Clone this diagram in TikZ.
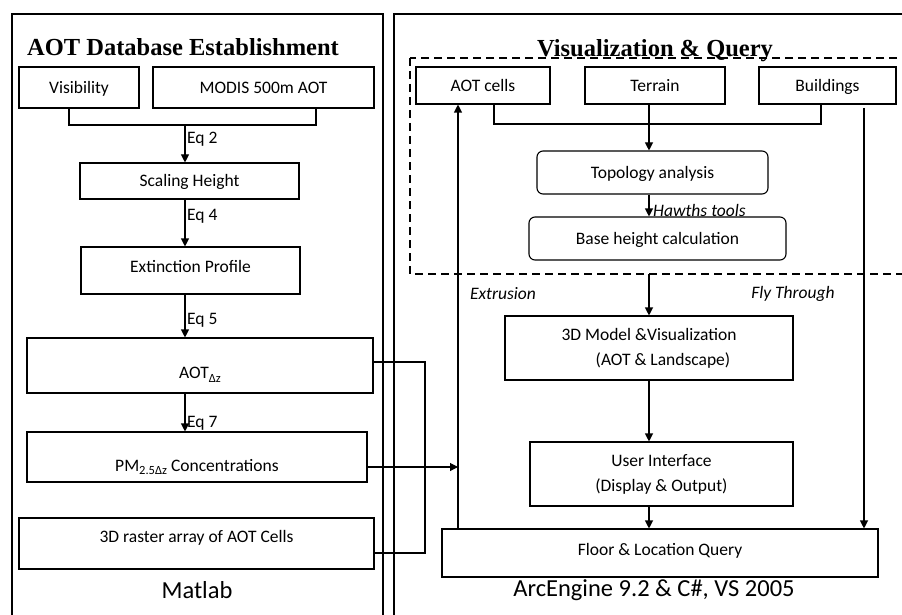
\documentclass[tikz,border=0pt]{standalone}
\usepackage{fontspec}
\setmainfont{Carlito}
\newfontfamily\titlefont{Liberation Serif}
\usetikzlibrary{arrows.meta}
\newcommand\mysub[1]{\raisebox{-3.5pt}{\fontsize{12.5}{13}\selectfont #1}}
\newcommand\shifted[2]{\raisebox{#1}[\height][\depth]{#2}}
\begin{document}
\begin{tikzpicture}[x=1pt,y=-1pt,
  box/.style={draw,line width=1.1pt,inner sep=0pt,align=center,font=\fontsize{17.5}{25}\selectfont},
  one/.style={box,text height=11.3pt,text depth=0pt},
  rbox/.style={one,rounded corners=6pt},
  frame/.style={line width=2.4pt},
  arr/.style={line width=1.1pt,-{Triangle[length=8pt,width=8pt]}},
  ln/.style={line width=1.1pt},
  lbl/.style={inner sep=0pt,font=\fontsize{17.5}{20}\selectfont},
  ilbl/.style={lbl,font=\fontsize{17.5}{20}\selectfont\itshape},
  ttl/.style={inner sep=0pt,anchor=base,font=\fontsize{24.5}{27}\selectfont\titlefont\bfseries},
  big/.style={inner sep=0pt,font=\fontsize{24.5}{28}\selectfont}]
\useasboundingbox (0,0) rectangle (902,615);
\clip (0,0) rectangle (902,615);
\fill[white] (0,0) rectangle (902,615);
% outer frames
\draw[frame] (12,620) -- (12,14) -- (383,14) -- (383,620);
\draw[frame] (394,620) -- (394,14) -- (910,14);
\draw[line width=1.8pt,dash pattern=on 8pt off 5pt] (410,58) rectangle (912,274);
% titles
\node[ttl] (t1) at (183,56) {AOT Database Establishment};
\node[ttl] (t2) at (655,57) {Visualization \& Query};
% left boxes
\node[one,minimum width=120pt,minimum height=41pt] (vis) at (79,87.5) {Visibility};
\node[one,minimum width=221pt,minimum height=41pt] (modis) at (263.5,87.5) {MODIS 500m AOT};
\node[one,minimum width=219pt,minimum height=36pt] (scal) at (189.5,181) {Scaling Height};
\node[one,minimum width=219pt,minimum height=47pt] (ext) at (190.5,270.5) {\shifted{3.5pt}{Extinction Profile}};
\node[one,minimum width=346pt,minimum height=55pt] (aot) at (200,365.5) {\shifted{-7.5pt}{AOT\mysub{Δz}}};
\node[one,minimum width=340pt,minimum height=50pt] (pm) at (197,457) {\shifted{-8.5pt}{PM\mysub{2.5Δz} Concentrations}};
\node[one,minimum width=355pt,minimum height=51pt] (ras) at (196.5,543.5) {\shifted{6.5pt}{3D raster array of AOT Cells}};
\node[big] (mat) at (197,590) {Matlab};
% right boxes
\node[one,minimum width=134pt,minimum height=37pt] (aotc) at (483,85.5) {AOT cells};
\node[one,minimum width=140pt,minimum height=37pt] (ter) at (655,85.5) {Terrain};
\node[one,minimum width=137pt,minimum height=37pt] (bld) at (827.5,85.5) {Buildings};
\node[rbox,minimum width=231pt,minimum height=43pt] (topo) at (652.5,172.5) {Topology analysis};
\node[rbox,minimum width=257pt,minimum height=43pt] (base) at (657.5,238.5) {Base height calculation};
\node[box,minimum width=288pt,minimum height=64pt] (model) at (649,348) {3D Model \&Visualization\\\hspace*{28pt}(AOT \& Landscape)};
\node[box,minimum width=263pt,minimum height=64pt] (ui) at (661.5,474) {User Interface\\(Display \& Output)};
\node[one,minimum width=436pt,minimum height=48pt] (floor) at (660,553) {\shifted{3pt}{Floor \& Location Query}};
\node[big] (arc) at (654,590) {ArcEngine 9.2 \& C\#, VS 2005};
% coordinates
\coordinate (xl1) at (69,125);
\coordinate (xl2) at (316,125);
\coordinate (xc) at (185,125);
\coordinate (xr1) at (494,124);
\coordinate (xr2) at (821,124);
\coordinate (xm) at (649,124);
\coordinate (dbot) at (649,274);
\coordinate (xe) at (458,467);
\coordinate (xf) at (864,108);
\coordinate (j1) at (425,362);
\coordinate (j2) at (425,553);
\coordinate (pmy) at (0,467);
% left connectors
\draw[ln] (vis.south -| xl1) -- (xl1) -- (xl2) -- (modis.south -| xl2);
\draw[arr] (xc) -- (scal.north -| xc);
\draw[arr] (scal.south -| xc) -- (ext.north -| xc);
\draw[arr] (ext.south -| xc) -- (aot.north -| xc);
\draw[arr] (aot.south -| xc) -- (pm.north -| xc);
\node[lbl,anchor=west] (eq2) at (187,139) {Eq 2};
\node[lbl,anchor=west] (eq4) at (187,216) {Eq 4};
\node[lbl,anchor=west] (eq5) at (187,320) {Eq 5};
\node[lbl,anchor=west] (eq7) at (187,423) {Eq 7};
% cross connectors
\draw[ln] (aot.east |- j1) -- (j1) -- (j2) -- (ras.east |- j2);
\draw[arr] (pm.east |- pmy) -- (xe);
% right connectors
\draw[ln] (aotc.south -| xr1) -- (xr1) -- (xr2) -- (bld.south -| xr2);
\draw[arr] (ter.south -| xm) -- (topo.north -| xm);
\draw[arr] (topo.south -| xm) -- (base.north -| xm);
\node[ilbl,anchor=west] (haw) at (653,210) {Hawths tools};
\draw[arr] (dbot) -- (model.north -| dbot);
\draw[arr] (model.south -| dbot) -- (ui.north -| dbot);
\draw[arr] (ui.south -| dbot) -- (floor.north -| dbot);
\draw[arr] (floor.north -| xe) -- (aotc.south -| xe);
\draw[arr] (xf) -- (floor.north -| xf);
\node[ilbl] (extr) at (503,294) {Extrusion};
\node[ilbl] (fly) at (793,294) {Fly Through};
\end{tikzpicture}
\end{document}
